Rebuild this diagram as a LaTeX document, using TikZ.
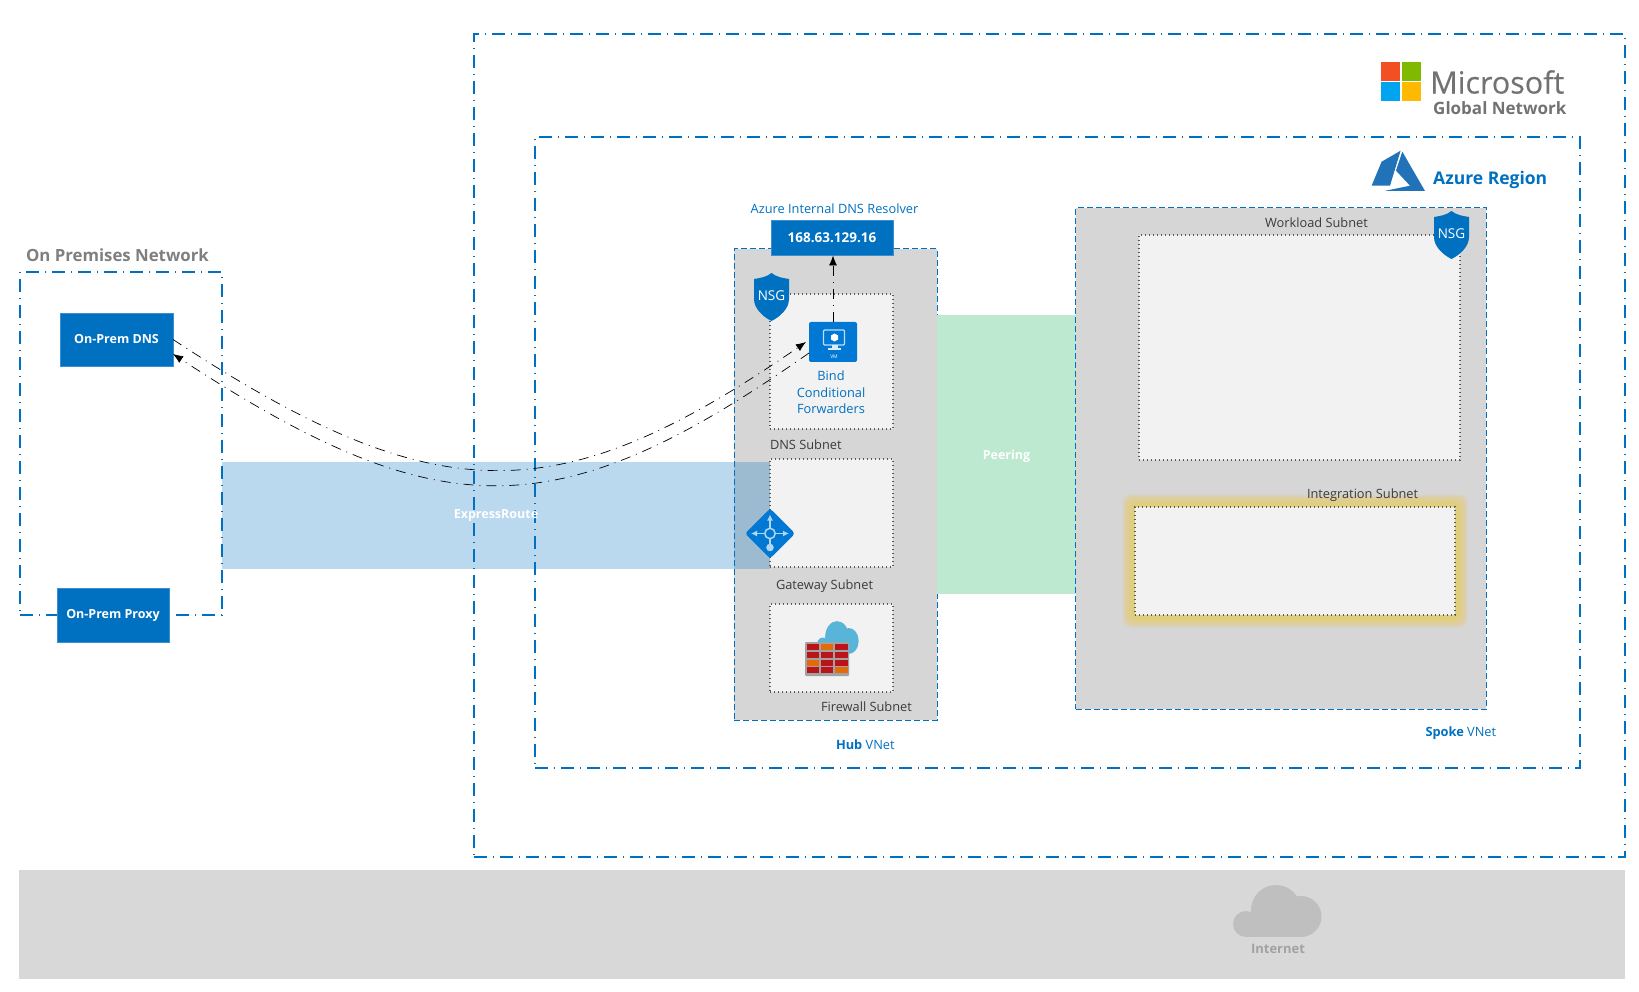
\documentclass[tikz,border=0pt]{standalone}
\usepackage{fontspec}
\setmainfont{Open Sans}
\usetikzlibrary{arrows.meta,positioning,calc}

\definecolor{azure_blue}{HTML}{0070C0}
\definecolor{vm_blue}{HTML}{0078D4}
\definecolor{box_edge}{HTML}{3C8FCF}
\definecolor{hub_grey}{HTML}{D6D6D6}
\definecolor{band_grey}{HTML}{D8D8D8}
\definecolor{subnet_fill}{HTML}{F2F2F2}
\definecolor{dot_grey}{HTML}{595959}
\definecolor{title_grey}{HTML}{7F7F7F}
\definecolor{label_grey}{HTML}{3B3B3B}
\definecolor{cloud_grey}{HTML}{BFBFBF}
\definecolor{cloud_blue}{HTML}{59B4D9}
\definecolor{peer_green}{HTML}{BDE9D0}
\definecolor{glow_yellow}{HTML}{EDCE67}
\definecolor{brick_red}{HTML}{BA141A}
\definecolor{brick_orange}{HTML}{E36C0A}
\definecolor{logo_blue}{HTML}{2272B9}

\begin{document}
\begin{tikzpicture}[
    x=1pt,y=1pt,
    % Define styles for different types of blocks
    sized/.style n args={2}{
        rectangle,
        inner sep=0pt,
        outer sep=0pt,
        minimum width=#1,
        minimum height=#2
    },
    dash_box/.style={
        draw=azure_blue,
        line width=1.1pt,
        dash pattern=on 13pt off 6pt on 1pt off 6pt
    },
    vnet_box/.style={
        draw=azure_blue,
        fill=hub_grey,
        line width=1pt,
        dash pattern=on 6pt off 3pt
    },
    subnet/.style={
        draw=dot_grey,
        fill=subnet_fill,
        line width=1.2pt,
        dash pattern=on 1.4pt off 2.6pt
    },
    blue_box/.style={
        draw=box_edge,
        fill=azure_blue,
        line width=0.8pt,
        text=white,
        font=\fontsize{12.5}{15}\selectfont\bfseries
    },
    label_text/.style={
        inner sep=0pt,
        outer sep=0pt,
        text=label_grey,
        font=\fontsize{12.8}{16.8}\selectfont
    },
    blue_text/.style={
        label_text,
        text=azure_blue
    },
    band_text/.style={
        text=white,
        font=\fontsize{12.5}{15}\selectfont\bfseries
    },
    glow/.style={
        rectangle,
        fill=glow_yellow,
        opacity=0.065,
        rounded corners=8pt,
        inner sep=0pt
    },
    line/.style={
        draw,
        line width=0.7pt,
        dash pattern=on 10pt off 6pt on 1pt off 6pt,
        -{Latex[length=10pt,width=8pt]}
    },
    % Icons
    nsg_shield/.pic={
        \fill[azure_blue] (0,24) .. controls (5,20) and (11,19) .. (17.5,18) -- (17.5,-2)
            .. controls (17.5,-12) and (8,-20) .. (0,-24)
            .. controls (-8,-20) and (-17.5,-12) .. (-17.5,-2) -- (-17.5,18)
            .. controls (-11,19) and (-5,20) .. (0,24) -- cycle;
        \node[text=white,font=\fontsize{13.5}{16}\selectfont] at (0,1) {NSG};
    },
    cloud_icon/.pic={
        \path[pic actions] (-32,-13) circle (13);
        \path[pic actions] (-2,1) circle (25);
        \path[pic actions] (23,-5.5) circle (20.5);
        \path[pic actions] (-32,-26) rectangle (23,-8);
    },
    gateway_icon/.pic={
        \fill[vm_blue,rounded corners=3pt] (-25,0) -- (0,25) -- (25,0) -- (0,-25) -- cycle;
        \draw[white!70!vm_blue,line width=1.8pt,-{Latex[length=6pt,width=6pt]}] (0,0) -- (0,19);
        \draw[white!70!vm_blue,line width=1.8pt,{Latex[length=6pt,width=6pt]}-{Latex[length=6pt,width=6pt]}] (-19,0) -- (19,0);
        \draw[white!70!vm_blue,line width=1.8pt] (0,0) -- (0,-11);
        \fill[white!70!vm_blue] (0,-14) circle (3.8);
        \draw[white!70!vm_blue,fill=vm_blue,line width=1.5pt] (0,0) circle (5.2);
    },
    azure_logo/.pic={
        \fill[logo_blue] (2.3,20) -- (-16.7,9) -- (-26.7,-15) -- (-8.3,-15) -- cycle;
        \fill[logo_blue] (4,19) -- (26.7,-20.3) -- (-14,-20.3) -- (11.7,-15) -- (-2.3,0) -- cycle;
    }
]
\useasboundingbox (0,0) rectangle (1639,-992);

% Place the large regions
\node[sized={202pt}{343pt}, dash_box, anchor=north west] (onprem) at (20,-272) {};
\node[sized={1151pt}{823pt}, dash_box, anchor=north west] (global_net) at (474,-34) {};
\node[sized={1045pt}{631pt}, dash_box, below right=103pt and 61pt of global_net.north west] (region) {};
\node[sized={1606pt}{109pt}, fill=band_grey, anchor=north west] (internet) at (19,-870) {};

% Hub, peering and express route bands
\node[sized={203pt}{471pt}, vnet_box, below right=112pt and 199pt of region.north west] (hub) {};
\node[sized={139pt}{279pt}, fill=peer_green, below right=66pt and 0pt of hub.north east] (peering) {};
\node[band_text, inner sep=0pt, at={([yshift=-1.5pt]peering.center)}] (peering_label) {Peering};
\node[sized={548pt}{107pt}, fill=azure_blue, fill opacity=0.27, text opacity=1, band_text,
    below right=190pt and 0pt of onprem.north east] (express) {ExpressRoute};

% Hub subnets
\node[sized={123pt}{135pt}, subnet, below right=45pt and 36pt of hub.north west] (dns_subnet) {};
\node[sized={123pt}{108pt}, subnet, below=30pt of dns_subnet] (gateway_subnet) {};
\node[sized={123pt}{88pt}, subnet, below=37pt of gateway_subnet] (firewall_subnet) {};

% Spoke and its subnets
\node[sized={410.5pt}{501pt}, vnet_box, below right=71pt and 540.5pt of region.north west] (spoke) {};
\node[sized={321pt}{225pt}, subnet, below right=27pt and 63.5pt of spoke.north west] (workload_subnet) {};
\coordinate (integration_c) at ($(spoke.north west)+(219.5,-353)$);
\foreach \g in {26,25,...,6}
    \node[glow, minimum width=320pt+\g pt, minimum height=108pt+\g pt] at (integration_c) {};
\node[sized={320pt}{108pt}, subnet] (integration_subnet) at (integration_c) {};

% Place the blocks
\node[sized={113pt}{53pt}, blue_box, below right=41pt and 40pt of onprem.north west] (dns) {\raisebox{-1pt}{On-Prem DNS}};
\node[sized={112pt}{54pt}, blue_box, below right=-27pt and 37pt of onprem.south west] (proxy) {\raisebox{-1pt}{On-Prem Proxy}};
\node[sized={122pt}{35pt}, blue_box, above=-6.5pt of hub, xshift=-3.5pt,
    font=\fontsize{13.5}{16}\selectfont\bfseries] (resolver) {168.63.129.16};
\node[sized={48pt}{40pt}, fill=vm_blue, rounded corners=2pt, below=28pt of dns_subnet.north, xshift=1.5pt] (vm) {};

% Draw the monitor on the vm
\begin{scope}[shift={(vm.center)}]
    \draw[white!75!vm_blue,line width=1.4pt,rounded corners=1pt] (-9.5,12) rectangle (11.5,-3);
    \fill[white] (1.5,8.5) -- (5,6.5) -- (5,2.5) -- (1.5,0.5) -- (-2,2.5) -- (-2,6.5) -- cycle;
    \fill[white!85!vm_blue] (-1.5,-3) rectangle (4.5,-6.5);
    \fill[white!85!vm_blue] (-5,-6.5) rectangle (8,-8);
    \node[text=white,font=\fontsize{5}{6}\selectfont,inner sep=0pt] (vm_tag) at (1,-14.7) {VM};
\end{scope}

% Labels
\node[label_text, above right=10.5pt and 6pt of onprem.north west, font=\fontsize{16.8}{20}\selectfont\bfseries,
    text=title_grey] (onprem_title) {On Premises Network};
\node[blue_text, above=7pt of resolver, xshift=2.5pt] (resolver_title) {Azure Internal DNS Resolver};
\node[blue_text, below=8.5pt of vm, xshift=-2pt, align=center] (bind_label) {Bind\\Conditional\\Forwarders};
\node[label_text, below right=16pt and 0pt of dns_subnet.south west, anchor=west] (dns_label) {DNS Subnet};
\node[label_text, below right=19pt and 6pt of gateway_subnet.south west, anchor=west] (gateway_label) {Gateway Subnet};
\node[label_text, below right=15pt and 51pt of firewall_subnet.south west, anchor=west] (firewall_label) {Firewall Subnet};
\node[blue_text, below right=25pt and 102pt of hub.south west, anchor=west] (hub_label) {\textbf{Hub} VNet};
\node[label_text, below right=14.5pt and 189.5pt of spoke.north west, anchor=west] (workload_label) {Workload Subnet};
\node[label_text, above right=12pt and 172pt of integration_subnet.north west, anchor=west] (integration_label) {Integration Subnet};
\node[blue_text, below right=24pt and 350pt of spoke.south west, anchor=west] (spoke_label) {\textbf{Spoke} VNet};
\node[text=azure_blue, inner sep=0pt, anchor=west, font=\fontsize{17.5}{22}\selectfont\bfseries] (region_title) at (1433,-180) {Azure Region};
\node[text=title_grey!90!black, inner sep=0pt, anchor=west, font=\fontsize{30.5}{36}\selectfont\addfontfeature{FakeBold=0.4}] (ms_title) at (1430,-82) {Microsoft};
\node[text=title_grey!90!black, inner sep=0pt, anchor=west, font=\fontsize{17}{20}\selectfont\bfseries] (ms_subtitle) at (1433,-108) {Global Network};
\node[text=cloud_grey!85!black, inner sep=0pt, font=\fontsize{13}{16}\selectfont\bfseries] (internet_label) at (1278,-949) {Internet};

% Icons
\pic at (771.5,-297) {nsg_shield};
\pic at (1451.5,-235) {nsg_shield};
\pic at (770,-533.5) {gateway_icon};
\pic at (1398.3,-170.7) {azure_logo};
\pic[fill=cloud_grey] at (1278,-911) {cloud_icon};
\pic[fill=cloud_blue, xscale=0.475, yscale=0.63] at (838,-637.5) {cloud_icon};

% Firewall bricks
\fill[cloud_grey!85!black, rounded corners=1pt] (805,-642) rectangle (849,-676);
\foreach \col/\row/\brick in {0/0/brick_red,1/0/brick_orange,2/0/brick_red,
    0/1/brick_red,1/1/brick_red,2/1/brick_red,
    0/2/brick_orange,1/2/brick_red,2/2/brick_red,
    0/3/brick_red,1/3/brick_red,2/3/brick_orange}
    \fill[\brick] (806.5+14.4*\col,-644-7.8*\row) rectangle ++(12.2,-6);

% Microsoft logo squares
\foreach \px/\py/\tile in {1381/62/F25022,1401.5/62/7FBA00,1381/82.5/00A4EF,1401.5/82.5/FFB900}{
    \definecolor{tile_col}{HTML}{\tile}
    \fill[tile_col] (\px,-\py) rectangle ++(19,-19);
}

% Draw the connections
% On-prem DNS to the vm and back
\draw[line] (dns.east) .. controls (437,-513) and (558,-513) .. ([xshift=-3pt]vm.west);
\draw[line] ([yshift=-11pt]vm.west) .. controls (558,-529) and (440,-529) .. ([yshift=-14.5pt]dns.east);

% vm to the resolver
\draw[line] (vm.north) -- (vm.north |- resolver.south);

\end{tikzpicture}
\end{document}
